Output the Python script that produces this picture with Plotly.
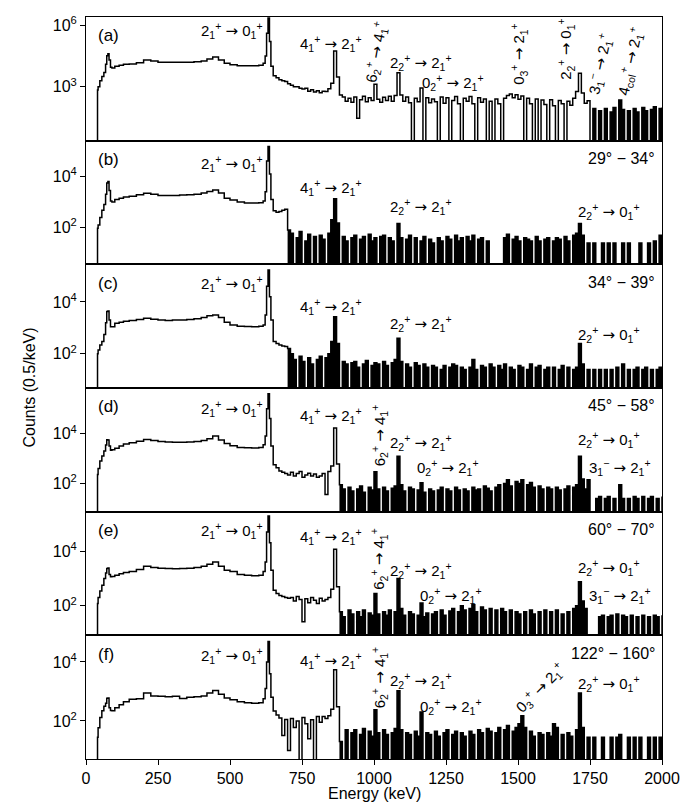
import plotly.graph_objects as go
from plotly.subplots import make_subplots

# ---------------- data ----------------
ENERGY_LOW_KEV = [39, 40, 42, 48, 55, 62, 68, 72, 76, 80,
                  85, 90, 100, 115, 130, 150, 175, 200, 225, 250,
                  275, 300, 325, 350, 375, 400, 420, 440, 460, 480,
                  500, 525, 550, 575, 600, 615, 622, 627, 632, 637,
                  642, 650, 660, 670, 680, 690, 700]
ENERGY_HIGH_KEV = list(range(710, 2001, 10))
ENERGY_KEV = ENERGY_LOW_KEV + ENERGY_HIGH_KEV

COUNTS_A = [
    1, 700, 1000, 2000, 3200, 5000, 12600, 32000, 40000, 20000,
    9000, 8300, 10000, 11200, 12600, 13000, 15000, 20000, 17800, 15800,
    15800, 15800, 15800, 15800, 16600, 17800, 22400, 28000, 20000, 14000,
    12000, 10700, 10500, 10700, 11200, 14000, 31600, 400000, 2200000, 160000,
    10000, 3500, 2800, 2200, 2000, 1800, 1400,
    1200, 1000, 1000, 850, 780, 850, 620, 720, 560, 650,
    520, 620, 600, 800, 1500, 55000, 3000, 400, 320, 200,
    280, 180, 320, 30, 240, 350, 190, 300, 220, 1350,
    250, 180, 310, 220, 350, 200, 380, 4900, 400, 200,
    320, 170, 1, 280, 190, 870, 1, 300, 170, 260,
    190, 1, 320, 160, 300, 1, 220, 340, 150, 1,
    280, 200, 340, 150, 1, 300, 180, 260, 1, 200,
    1, 260, 150, 1, 280, 380, 450, 300, 420, 250,
    360, 1, 280, 150, 1, 260, 1, 230, 140, 1,
    240, 120, 1, 220, 150, 1, 200, 130, 280, 600,
    4600, 500, 160, 215, 1, 90, 1, 70, 1, 90,
    1, 60, 100, 1, 230, 80, 1, 70, 1, 90,
    60, 1, 100, 70, 1, 80, 110, 1, 90, 100,
]

COUNTS_B = [
    1, 93, 126, 250, 470, 800, 2000, 5600, 6300, 2800,
    1100, 1000, 1260, 1400, 1580, 1660, 1900, 2200, 2000, 1800,
    1780, 1780, 1860, 1900, 2000, 2240, 2600, 2950, 2240, 1400,
    1200, 1000, 910, 910, 930, 1100, 2500, 40000, 150000, 12600,
    1260, 450, 400, 420, 480, 520, 80,
    60, 1, 40, 70, 1, 30, 55, 1, 45, 1,
    50, 35, 1, 60, 200, 1350, 150, 1, 45, 30,
    1, 40, 50, 1, 35, 45, 1, 55, 30, 40,
    1, 45, 50, 1, 40, 30, 1, 145, 40, 1,
    35, 50, 1, 40, 1, 30, 45, 1, 35, 25,
    1, 40, 30, 1, 45, 35, 1, 50, 30, 40,
    1, 45, 30, 50, 1, 35, 40, 1, 30, 1,
    1, 1, 1, 1, 40, 55, 1, 35, 45, 30,
    1, 40, 35, 30, 1, 45, 30, 1, 35, 40,
    1, 30, 40, 35, 1, 45, 30, 1, 50, 60,
    145, 50, 1, 25, 1, 25, 1, 1, 25, 1,
    25, 1, 25, 1, 1, 25, 1, 25, 1, 1,
    1, 25, 1, 1, 25, 1, 30, 1, 50, 1,
]

COUNTS_C = [
    1, 100, 140, 220, 300, 560, 1580, 4300, 4500, 2000,
    1100, 1100, 1500, 1660, 1780, 1900, 2100, 2350, 2140, 2000,
    1900, 2000, 2000, 2100, 2240, 2500, 2900, 3160, 2500, 1660,
    1300, 1150, 1120, 1100, 1150, 1300, 3160, 40000, 170000, 15800,
    2000, 300, 250, 220, 200, 190, 160,
    100, 60, 1, 80, 50, 1, 70, 40, 1, 60,
    80, 1, 70, 100, 300, 2700, 250, 1, 50, 40,
    1, 45, 50, 30, 1, 40, 55, 1, 35, 45,
    40, 1, 50, 35, 1, 45, 60, 400, 50, 1,
    40, 30, 1, 45, 35, 1, 40, 30, 1, 35,
    30, 1, 25, 35, 1, 30, 40, 35, 1, 30,
    25, 1, 30, 60, 25, 1, 35, 30, 1, 40,
    30, 1, 35, 25, 40, 1, 30, 25, 1, 35,
    30, 1, 25, 40, 1, 30, 35, 1, 25, 30,
    1, 30, 1, 25, 35, 1, 30, 1, 25, 30,
    250, 40, 1, 25, 1, 25, 1, 25, 1, 25,
    1, 25, 1, 30, 1, 40, 1, 25, 1, 25,
    30, 1, 25, 30, 1, 25, 1, 25, 30, 1,
]

COUNTS_D = [
    1, 230, 400, 800, 1260, 2000, 3500, 5700, 5600, 3160,
    2140, 2240, 2600, 3160, 3800, 4260, 5000, 5750, 5250, 4800,
    4570, 4470, 4470, 4570, 4800, 5250, 6300, 8000, 5600, 4000,
    3300, 2800, 2700, 2630, 2750, 3550, 8000, 100000, 400000, 40000,
    3160, 560, 430, 316, 280, 250, 220,
    280, 200, 250, 300, 180, 220, 260, 200, 240, 180,
    200, 250, 36, 300, 500, 17000, 600, 90, 60, 1,
    70, 50, 1, 60, 80, 45, 1, 70, 55, 295,
    60, 1, 70, 50, 1, 65, 80, 1230, 90, 50,
    1, 70, 60, 1, 55, 107, 45, 1, 60, 50,
    1, 55, 70, 1, 60, 50, 1, 70, 55, 1,
    60, 50, 1, 70, 55, 60, 1, 80, 65, 50,
    1, 70, 90, 1, 100, 140, 80, 1, 120, 100,
    140, 1, 90, 110, 70, 1, 80, 60, 1, 70,
    60, 1, 70, 55, 1, 60, 80, 1, 70, 90,
    1230, 150, 60, 140, 1, 1, 25, 30, 1, 25,
    30, 1, 25, 1, 90, 25, 1, 25, 1, 30,
    25, 1, 30, 1, 25, 30, 1, 25, 1, 30,
]

COUNTS_E = [
    1, 120, 200, 350, 560, 1000, 1580, 2300, 2400, 1400,
    1150, 1170, 1300, 1480, 1660, 1800, 2100, 2800, 2500, 2340,
    2300, 2240, 2300, 2340, 2500, 2800, 3300, 4000, 2800, 2000,
    1780, 1400, 1320, 1260, 1320, 1780, 4000, 50000, 190000, 20000,
    2000, 370, 280, 240, 220, 200, 190,
    200, 150, 220, 170, 26, 180, 130, 200, 160, 120,
    190, 150, 170, 200, 400, 11700, 500, 60, 40, 1,
    70, 50, 1, 60, 40, 70, 1, 55, 45, 280,
    50, 1, 60, 45, 70, 1, 60, 1000, 80, 45,
    1, 60, 50, 1, 45, 126, 40, 55, 1, 50,
    60, 1, 70, 45, 1, 65, 80, 1, 60, 100,
    70, 1, 80, 110, 60, 1, 90, 70, 1, 80,
    1, 70, 1, 80, 60, 1, 70, 1, 60, 50,
    1, 60, 1, 70, 50, 1, 60, 1, 70, 1,
    60, 1, 70, 1, 50, 1, 60, 1, 80, 100,
    760, 150, 80, 1, 1, 1, 1, 40, 45, 1,
    40, 45, 1, 50, 1, 45, 40, 1, 45, 1,
    40, 1, 45, 1, 40, 1, 45, 40, 1, 45,
]

COUNTS_F = [
    1, 28, 59, 130, 220, 316, 400, 590, 600, 280,
    224, 220, 280, 355, 450, 540, 560, 890, 700, 690,
    660, 680, 575, 630, 660, 700, 890, 1070, 800, 600,
    525, 450, 415, 400, 415, 560, 1260, 10000, 49000, 4000,
    630, 215, 160, 126, 32, 112, 10,
    120, 60, 100, 1, 130, 80, 25, 110, 1, 140,
    90, 140, 120, 150, 250, 5400, 300, 20, 1, 50,
    1, 40, 50, 1, 35, 55, 1, 45, 30, 240,
    40, 1, 50, 35, 1, 40, 55, 1050, 50, 1,
    40, 35, 1, 45, 30, 200, 1, 40, 35, 1,
    45, 30, 1, 40, 50, 1, 35, 45, 1, 40,
    30, 1, 45, 35, 1, 50, 40, 1, 55, 45,
    1, 40, 60, 1, 50, 70, 1, 45, 60, 80,
    150, 60, 1, 45, 30, 1, 40, 35, 1, 40,
    30, 80, 60, 1, 35, 1, 40, 30, 1, 50,
    890, 60, 1, 28, 1, 28, 1, 1, 28, 1,
    1, 28, 1, 28, 35, 1, 1, 28, 1, 28,
    1, 28, 1, 1, 28, 1, 28, 1, 28, 1,
]

PANEL_COUNTS = [COUNTS_A, COUNTS_B, COUNTS_C, COUNTS_D, COUNTS_E, COUNTS_F]
PANEL_LETTERS = ["(a)", "(b)", "(c)", "(d)", "(e)", "(f)"]
ANGLE_LABELS = [None, "29° − 34°", "34° − 39°", "45° − 58°", "60° − 70°", "122° − 160°"]
X_TICKS = [0, 250, 500, 750, 1000, 1250, 1500, 1750, 2000]

for c in PANEL_COUNTS:
    assert len(c) == len(ENERGY_KEV), (len(c), len(ENERGY_KEV))

# ---------------- figure ----------------
FONT = "Liberation Sans, Arial, Helvetica, sans-serif"
W, H = 700, 803
L, R, T, B = 78, 46, 6, 52
PW, PH = W - L - R, H - T - B

fig = make_subplots(rows=6, cols=1, shared_xaxes=True, vertical_spacing=0)

# energy from which the low-statistics region looks like a dense black band
DENSE_FROM_KEV = [1760, 700, 700, 880, 880, 880]

for i, counts in enumerate(PANEL_COUNTS):
    xs = [e for e in ENERGY_KEV if e >= DENSE_FROM_KEV[i]]
    ys = [c for e, c in zip(ENERGY_KEV, counts) if e >= DENSE_FROM_KEV[i]]
    fig.add_trace(go.Scatter(x=xs, y=ys, mode="lines", fill="tozeroy",
                             fillcolor="black",
                             line=dict(color="black", width=0, shape="hv"),
                             hoverinfo="skip"), row=i + 1, col=1)
    fig.add_trace(go.Scatter(x=ENERGY_KEV, y=counts, mode="lines",
                             line=dict(color="black", width=1.5, shape="hv"),
                             hoverinfo="skip"), row=i + 1, col=1)

y_ranges = [(0.39, 6.39), (0.56, 5.40), (0.68, 5.45), (0.87, 5.83), (0.92, 5.44), (0.71, 4.90)]
for i in range(6):
    if i == 0:
        tv, tt = [1e3, 1e6], ["10<sup>3</sup>", "10<sup>6</sup>"]
    else:
        tv, tt = [1e2, 1e4], ["10<sup>2</sup>", "10<sup>4</sup>"]
    fig.update_yaxes(type="log", range=list(y_ranges[i]), tickvals=tv, ticktext=tt,
                     showline=True, mirror=True, linecolor="black", linewidth=1,
                     ticks="outside", ticklen=5, tickcolor="black",
                     showgrid=False, zeroline=False,
                     tickfont=dict(family=FONT, size=16, color="black"),
                     row=i + 1, col=1)
    fig.update_xaxes(range=[0, 2000], showline=True, mirror=True, linecolor="black",
                     linewidth=1, showgrid=False, zeroline=False,
                     tickvals=X_TICKS, ticks="outside" if i == 5 else "",
                     ticklen=5, tickcolor="black",
                     showticklabels=(i == 5),
                     tickfont=dict(family=FONT, size=16, color="black"),
                     row=i + 1, col=1)


def lvl(n, i, p="+"):
    return f"{n}<sub>{i}</sub><sup>{p}</sup>"


AR = ' <span style="font-family:DejaVu Sans">→</span> '
T21_01 = lvl(2, 1) + AR + lvl(0, 1)
T41_21 = lvl(4, 1) + AR + lvl(2, 1)
T22_21 = lvl(2, 2) + AR + lvl(2, 1)
T02_21 = lvl(0, 2) + AR + lvl(2, 1)
T22_01 = lvl(2, 2) + AR + lvl(0, 1)
T31_21 = lvl(3, 1, "−") + AR + lvl(2, 1)
T62_41 = lvl(6, 2) + AR + lvl(4, 1)
T03_21 = lvl(0, 3) + AR + lvl(2, 1)
T4C_21 = lvl(4, "col") + AR + lvl(2, 1)

# (text, x px, y px, anchor, angle)
LABELS = [
    (T21_01, 257, 20, "right", 0), (T41_21, 290, 33, "left", 0),
    (T62_41, 368, 41, "center", -80), (T22_21, 380, 52, "left", 0),
    (T02_21, 412, 72, "left", 0), (T03_21, 511, 43, "center", -90),
    (T22_01, 558, 38, "center", -90), (T31_21, 592, 53, "center", -78),
    (T4C_21, 622, 51, "center", -78),
    (T21_01, 257, 153, "right", 0), (T41_21, 290, 177, "left", 0),
    (T22_21, 380, 196, "left", 0), (T22_01, 568, 201, "left", 0),
    (T21_01, 257, 274, "right", 0), (T41_21, 290, 297, "left", 0),
    (T22_21, 380, 314, "left", 0), (T22_01, 568, 325, "left", 0),
    (T21_01, 257, 399, "right", 0), (T41_21, 290, 406, "left", 0),
    (T62_41, 371, 426, "center", -90), (T22_21, 380, 433, "left", 0),
    (T02_21, 407, 458, "left", 0), (T22_01, 568, 430, "left", 0),
    (T31_21, 579, 458, "left", 0),
    (T21_01, 257, 522, "right", 0), (T41_21, 290, 528, "left", 0),
    (T62_41, 371, 550, "center", -90), (T22_21, 380, 562, "left", 0),
    (T02_21, 410, 587, "left", 0), (T22_01, 568, 559, "left", 0),
    (T31_21, 579, 587, "left", 0),
    (T21_01, 257, 647, "right", 0), (T41_21, 290, 652, "left", 0),
    (T62_41, 371, 669, "center", -90), (T22_21, 380, 672, "left", 0),
    (T02_21, 410, 698, "left", 0), (T03_21, 532, 679, "center", -45),
    (T22_01, 568, 675, "left", 0),
]

PANEL_TOPS = [T + k * PH / 6 for k in range(6)]


def px(x):
    return (x - L) / PW


def py(y):
    return (T + PH - y) / PH


anns = []
for text, x, y, anc, ang in LABELS:
    anns.append(dict(text=text, x=px(x), y=py(y), xref="paper", yref="paper",
                     xanchor=anc, yanchor="middle", textangle=ang, showarrow=False,
                     font=dict(family=FONT, size=15, color="black")))
for k in range(6):
    top = PANEL_TOPS[k]
    anns.append(dict(text=PANEL_LETTERS[k], x=px(88), y=py(top + 19), xref="paper", yref="paper",
                     xanchor="left", yanchor="middle", showarrow=False,
                     font=dict(family=FONT, size=17, color="black")))
    if ANGLE_LABELS[k]:
        anns.append(dict(text=ANGLE_LABELS[k], x=px(649), y=py(top + 18), xref="paper", yref="paper",
                         xanchor="right", yanchor="middle", showarrow=False,
                         font=dict(family=FONT, size=16, color="black")))

anns.append(dict(text="Counts (0.5/keV)", x=px(22), y=py(378), xref="paper", yref="paper",
                 xanchor="center", yanchor="middle", textangle=-90, showarrow=False,
                 font=dict(family=FONT, size=16, color="black")))
anns.append(dict(text="Energy (keV)", x=px(366), y=py(786), xref="paper", yref="paper",
                 xanchor="center", yanchor="middle", showarrow=False,
                 font=dict(family=FONT, size=16, color="black")))

fig.update_layout(width=W, height=H, margin=dict(l=L, r=R, t=T, b=B),
                  paper_bgcolor="white", plot_bgcolor="white", showlegend=False,
                  annotations=anns, font=dict(family=FONT, color="black"))

fig.write_html("out.html")
